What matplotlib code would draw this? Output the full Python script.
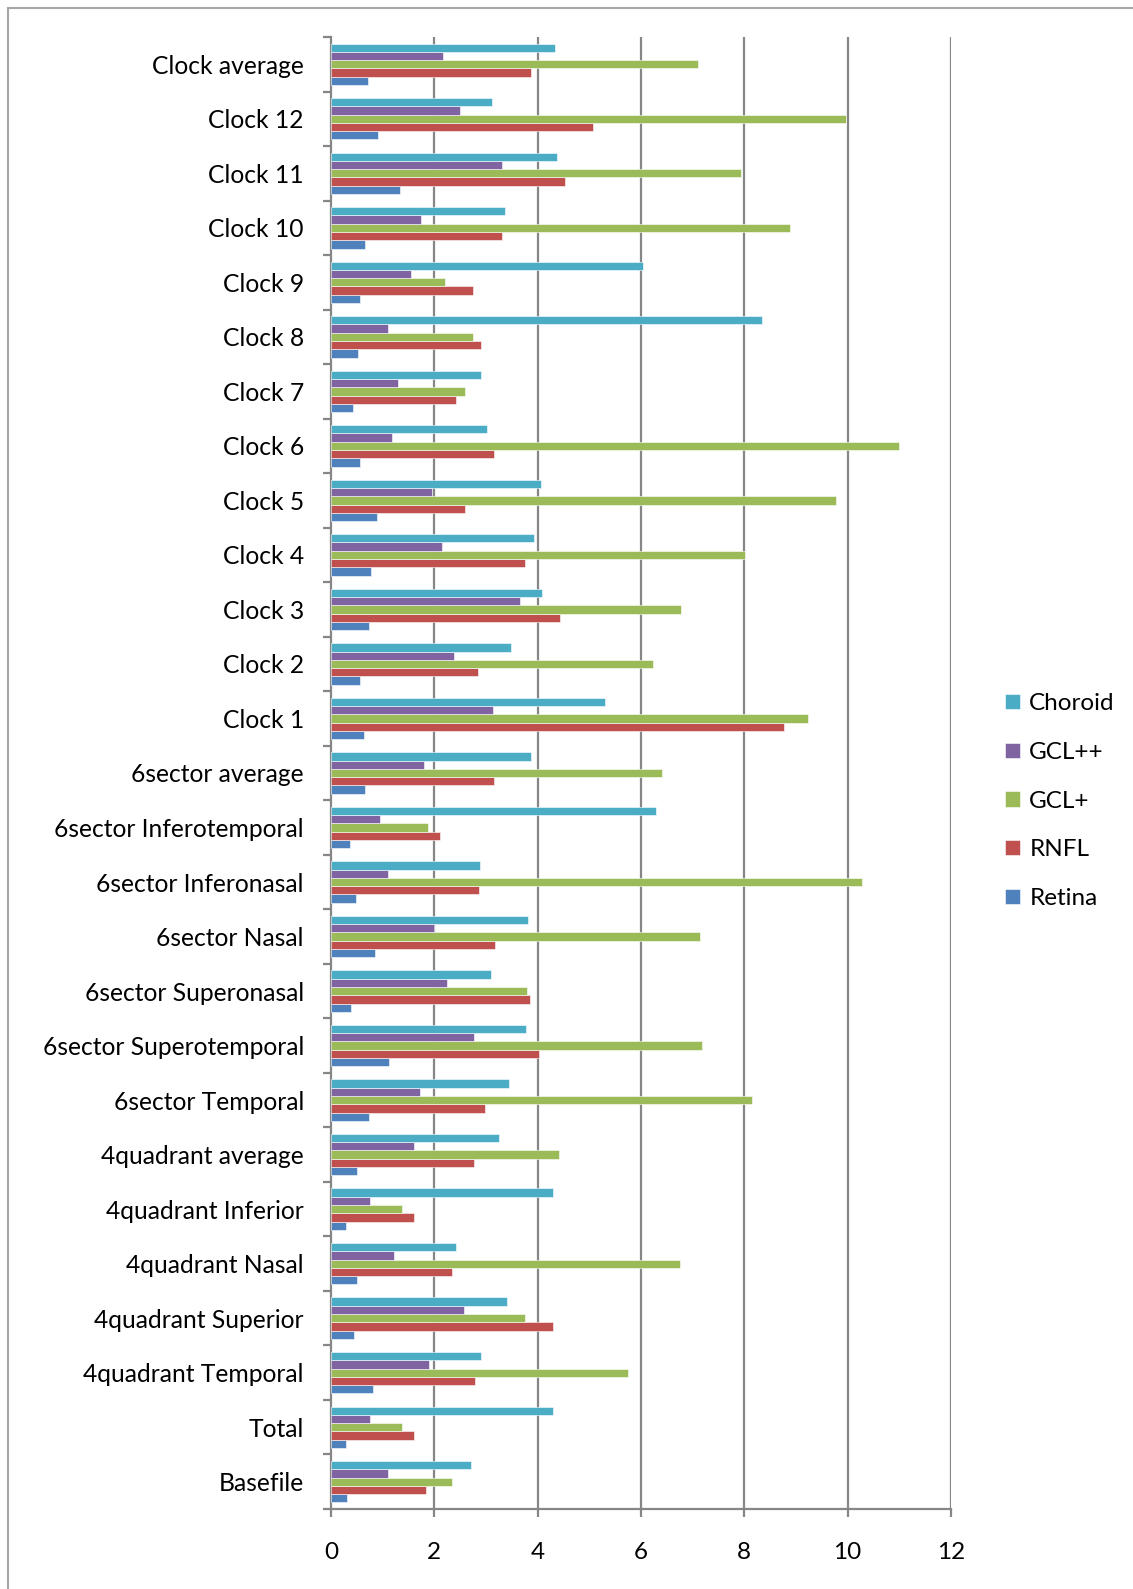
import matplotlib
matplotlib.use("Agg")
import matplotlib.pyplot as plt
import numpy as np
from matplotlib.patches import Rectangle

plt.rcParams['font.family'] = ['Lato', 'DejaVu Sans']

categories = [
    "Basefile", "Total", "4quadrant Temporal", "4quadrant Superior",
    "4quadrant Nasal", "4quadrant Inferior", "4quadrant average",
    "6sector Temporal", "6sector Superotemporal", "6sector Superonasal",
    "6sector Nasal", "6sector Inferonasal", "6sector Inferotemporal",
    "6sector average", "Clock 1", "Clock 2", "Clock 3", "Clock 4",
    "Clock 5", "Clock 6", "Clock 7", "Clock 8", "Clock 9", "Clock 10",
    "Clock 11", "Clock 12", "Clock average",
]

retina = [0.31, 0.29, 0.81, 0.44, 0.51, 0.29, 0.51,
          0.73, 1.12, 0.39, 0.86, 0.49, 0.36,
          0.65, 0.63, 0.57, 0.73, 0.77, 0.89, 0.56, 0.43, 0.52, 0.56, 0.65,
          1.34, 0.90, 0.72]
rnfl = [1.83, 1.60, 2.79, 4.30, 2.35, 1.60, 2.77,
        2.98, 4.02, 3.85, 3.17, 2.86, 2.11,
        3.15, 8.76, 2.84, 4.43, 3.76, 2.60, 3.15, 2.41, 2.91, 2.74, 3.30,
        4.53, 5.08, 3.88]
gcl_plus = [2.35, 1.38, 5.74, 3.76, 6.76, 1.38, 4.41,
            8.15, 7.18, 3.80, 7.15, 10.27, 1.88,
            6.41, 9.23, 6.24, 6.78, 8.01, 9.78, 11.00, 2.60, 2.75, 2.21, 8.89,
            7.93, 9.96, 7.11]
gcl_plusplus = [1.11, 0.76, 1.90, 2.58, 1.21, 0.76, 1.60,
                1.72, 2.77, 2.24, 2.00, 1.10, 0.95,
                1.80, 3.14, 2.39, 3.65, 2.14, 1.96, 1.19, 1.30, 1.11, 1.54, 1.74,
                3.31, 2.50, 2.17]
choroid = [2.71, 4.30, 2.91, 3.41, 2.41, 4.30, 3.26,
           3.45, 3.77, 3.10, 3.82, 2.88, 6.29,
           3.88, 5.31, 3.49, 4.09, 3.93, 4.07, 3.01, 2.91, 8.35, 6.03, 3.37,
           4.38, 3.12, 4.34]

series_names = ["Retina", "RNFL", "GCL+", "GCL++", "Choroid"]
series_values = [retina, rnfl, gcl_plus, gcl_plusplus, choroid]
colors = ["#4F81BD", "#C0504D", "#9BBB59", "#8064A2", "#4BACC6"]
x_ticks = [0, 2, 4, 6, 8, 10, 12]

W, H = 1133, 1589
fig = plt.figure(figsize=(W / 100, H / 100), dpi=100)
fig.patch.set_facecolor("white")

# outer chart frame
fig.add_artist(Rectangle((7.5 / W, -0.02), 1.2, 1 - 8 / H + 0.02,
                         transform=fig.transFigure, fill=False,
                         edgecolor="#a6a6a6", linewidth=1.5))

ax = fig.add_axes([331 / W, (H - 1509) / H, (951 - 331) / W, (1509 - 37) / H])

y = np.arange(len(categories))
bar_h = 0.152
handles = []
for j, (name, vals, col) in enumerate(zip(series_names, series_values, colors)):
    offs = (j - 2) * bar_h
    b = ax.barh(y + offs, vals, height=bar_h, color=col, label=name,
                edgecolor="white", linewidth=0.4, zorder=3)
    handles.append(b)

ax.set_xlim(0, 12)
ax.set_ylim(-0.5, len(categories) - 0.5)

grid_col = "#868686"
ax.set_xticks(x_ticks)
ax.set_xticklabels([str(t) for t in x_ticks])
for t in x_ticks[1:]:
    ax.axvline(t, color=grid_col, linewidth=1.6, zorder=1)

ax.set_yticks(y)
ax.set_yticklabels(categories)
ax.set_yticks(np.arange(-0.5, len(categories), 1.0), minor=True)

ax.tick_params(axis="y", which="major", length=0, pad=19.5, labelsize=17.7)
ax.tick_params(axis="y", which="minor", length=6, width=1.6, color=grid_col,
               direction="out")
ax.tick_params(axis="x", which="major", length=6, width=1.6, color=grid_col,
               direction="out", pad=18, labelsize=17.5)

for side in ["top", "right"]:
    ax.spines[side].set_visible(False)
for side in ["left", "bottom"]:
    ax.spines[side].set_color(grid_col)
    ax.spines[side].set_linewidth(1.6)

leg = fig.legend(handles=handles[::-1], labels=series_names[::-1],
                 loc="center left", bbox_to_anchor=(1005 / W, 1 - 801 / H),
                 frameon=False, fontsize=17.5, handlelength=0.6,
                 handleheight=0.6, handletextpad=0.4, labelspacing=1.14,
                 borderpad=0, borderaxespad=0)

fig.savefig("out.png", dpi=100, facecolor="white")
